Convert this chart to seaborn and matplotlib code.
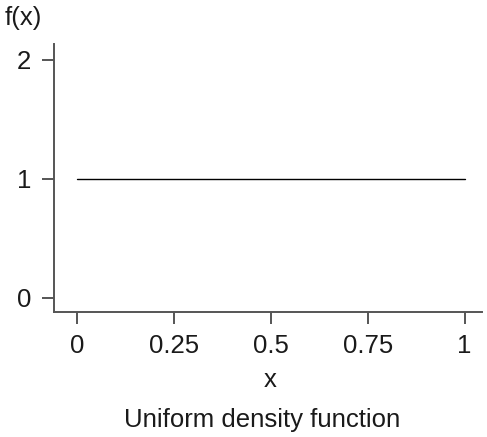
import matplotlib
matplotlib.use("Agg")
import matplotlib.pyplot as plt
import seaborn as sns
import pandas as pd

x_vals = [0, 1]
fx_vals = [1, 1]
x_ticks = [0, 0.25, 0.5, 0.75, 1]
x_tick_labels = ["0", "0.25", "0.5", "0.75", "1"]
y_ticks = [0, 1, 2]
y_tick_labels = ["0", "1", "2"]

sns.set_style("ticks")
plt.rcParams['font.family'] = ['Liberation Sans', 'DejaVu Sans']

df = pd.DataFrame({"x": x_vals, "f": fx_vals})

fig = plt.figure(figsize=(4.87, 4.37), dpi=100)
ax = fig.add_axes([0.1109, 0.286, 0.879, 0.613])
sns.lineplot(data=df, x="x", y="f", ax=ax, color="black", linewidth=1.0)

ax.set_xlim(-0.06, 1.045)
ax.set_ylim(-0.118, 2.13)
ax.set_xticks(x_ticks)
ax.set_xticklabels(x_tick_labels)
ax.set_yticks(y_ticks)
ax.set_yticklabels(y_tick_labels)
ax.set_xlabel("")
ax.set_ylabel("")

for s in ["top", "right"]:
    ax.spines[s].set_visible(False)
for s in ["left", "bottom"]:
    ax.spines[s].set_color("#555555")
    ax.spines[s].set_linewidth(1.4)

fs = 18.5
ax.tick_params(axis="both", direction="out", length=8.6, width=1.4, color="#555555",
               labelsize=fs, labelcolor="#1a1a1a")
ax.tick_params(axis="x", pad=7)
ax.tick_params(axis="y", pad=8)

fig.text(270/487, 1 - 387/437, "x", ha="center", va="baseline", fontsize=fs, color="#1a1a1a")
fig.text(262/487, 1 - 427/437, "Uniform density function", ha="center", va="baseline",
         fontsize=fs, color="#1a1a1a")
fig.text(5/487, 1 - 25/437, "f(x)", ha="left", va="baseline", fontsize=fs, color="#1a1a1a")

fig.savefig("out.png", dpi=100)
